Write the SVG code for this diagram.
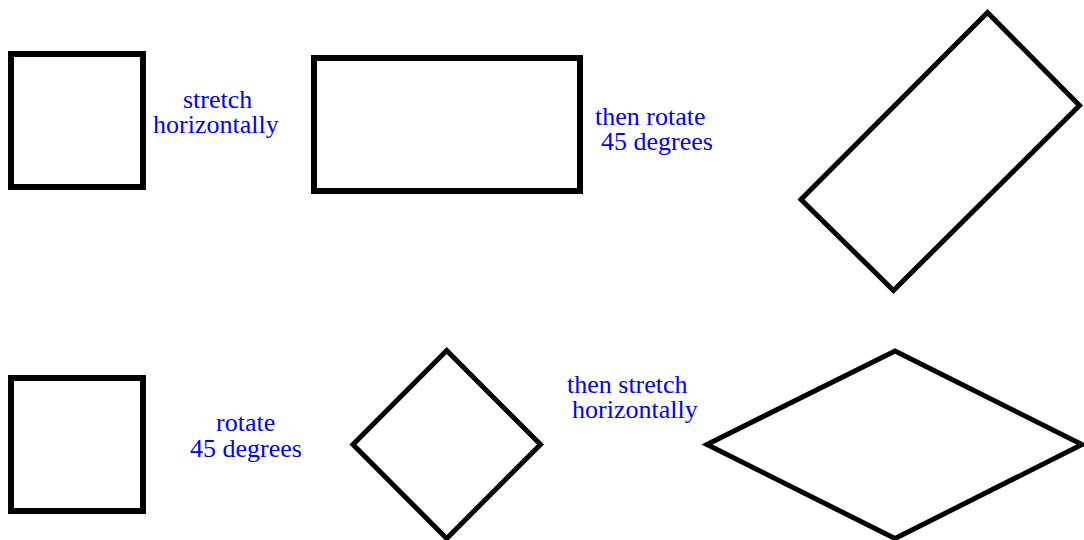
<svg xmlns="http://www.w3.org/2000/svg" width="1084" height="540" viewBox="0 0 1084 540">
  <style>
    .shape { fill: none; stroke: #000; stroke-width: 6; stroke-linejoin: miter; }
    .thin { stroke-width: 5; }
    .label { font-family: "Liberation Serif", "Times New Roman", serif; font-size: 26px; fill: #0000ff; }
  </style>

  <!-- Top row: square, stretched, then rotated -->
  <g id="square-top">
    <rect class="shape" x="11" y="54" width="132" height="133"/>
  </g>
  <g id="label-stretch">
    <text class="label" x="183" y="108">stretch</text>
    <text class="label" x="153" y="133">horizontally</text>
  </g>
  <g id="rect-stretched">
    <rect class="shape" x="314" y="58" width="266" height="133"/>
  </g>
  <g id="label-then-rotate">
    <text class="label" x="595" y="125">then rotate</text>
    <text class="label" x="601" y="150">45 degrees</text>
  </g>
  <g id="rect-rotated">
    <polygon class="shape thin" points="987.5,12.5 1079.5,105.5 893.5,290.5 801,199.5"/>
  </g>

  <!-- Bottom row: square, rotated, then stretched -->
  <g id="square-bottom">
    <rect class="shape" x="11" y="378" width="132" height="133"/>
  </g>
  <g id="label-rotate">
    <text class="label" x="216" y="431">rotate</text>
    <text class="label" x="190" y="457">45 degrees</text>
  </g>
  <g id="diamond">
    <polygon class="shape thin" points="446.7,350.5 540.5,444.5 446.7,538.5 353,444.5"/>
  </g>
  <g id="label-then-stretch">
    <text class="label" x="567" y="393">then stretch</text>
    <text class="label" x="572" y="418">horizontally</text>
  </g>
  <g id="rhombus">
    <polygon class="shape thin" points="895,351 1082,444.5 895,538.5 707,444.5"/>
  </g>

  <g id="connectors"/>
</svg>
